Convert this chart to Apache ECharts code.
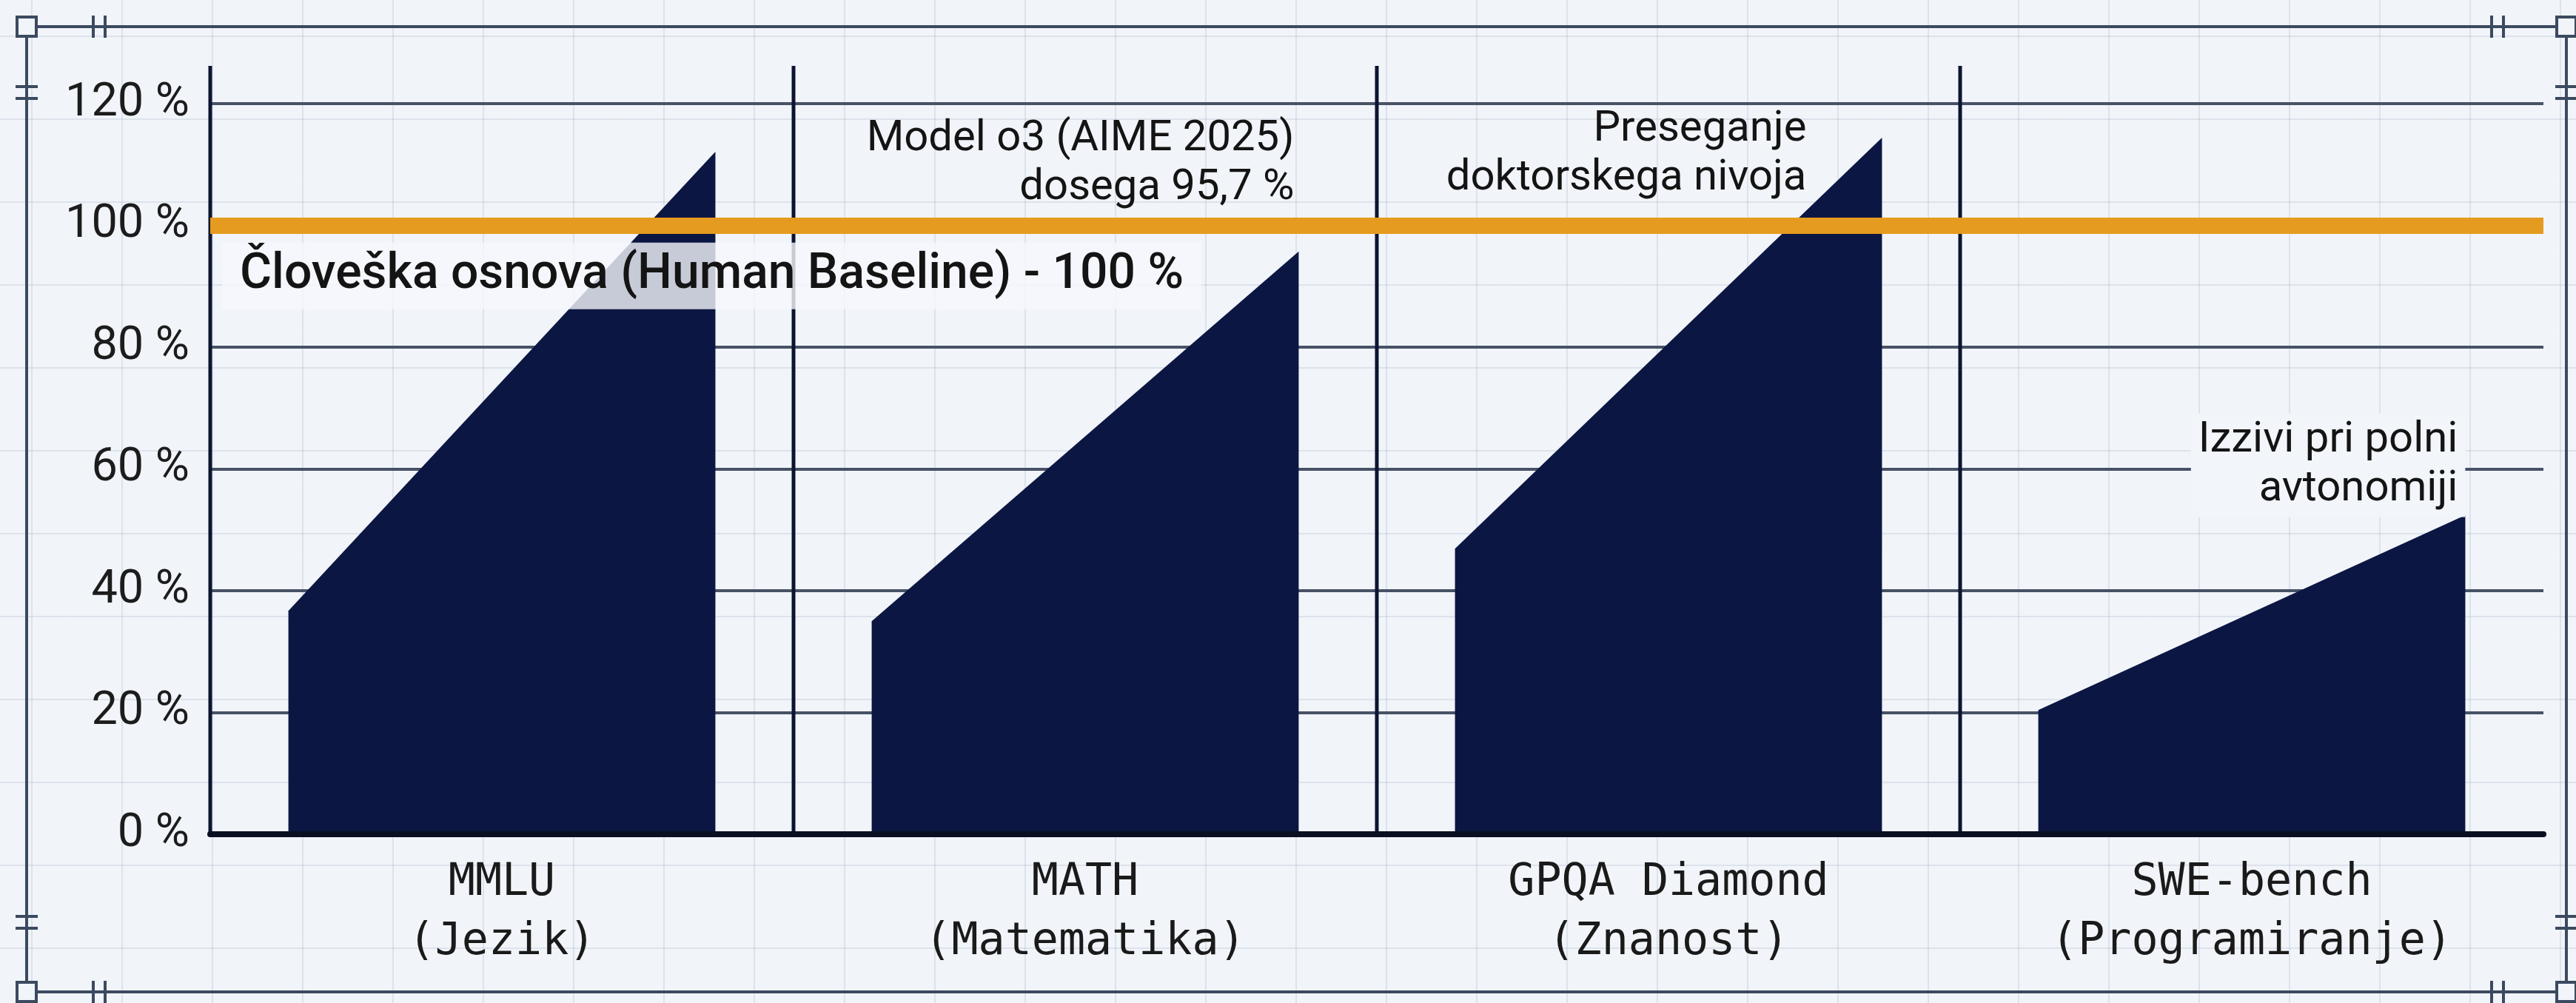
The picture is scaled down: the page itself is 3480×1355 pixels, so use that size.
<!DOCTYPE html>
<html>
<head>
<meta charset="utf-8">
<title>AI benchmarki proti človeški osnovi</title>
<script src="https://cdn.jsdelivr.net/npm/echarts@6/dist/echarts.min.js"></script>
<style>
  html, body { margin: 0; padding: 0; }
  body {
    width: 3480px;
    height: 1355px;
    overflow: hidden;
    background-color: #f1f4f9;
    background-image:
      linear-gradient(to right, rgba(150, 165, 190, 0.22) 2px, transparent 2px),
      linear-gradient(to bottom, rgba(150, 165, 190, 0.22) 2px, transparent 2px);
    background-size: 122px 112px;
    background-position: 42px 48px;
  }
  #main { width: 3480px; height: 1355px; }
</style>
</head>
<body>
<div id="main"></div>
<script>
// data
var categories = ['MMLU\n(Jezik)', 'MATH\n(Matematika)', 'GPQA Diamond\n(Znanost)', 'SWE-bench\n(Programiranje)'];
var startScores = [36.7, 35.0, 46.9, 20.4];
var endScores = [112.1, 95.7, 114.4, 52.4];
var yTicks = [0, 20, 40, 60, 80, 100, 120];
var humanBaseline = 100;
var noteTexts = [
  'Človeška osnova (Human Baseline) - 100 %',
  'Model o3 (AIME 2025)\ndosega 95,7 %',
  'Preseganje\ndoktorskega nivoja',
  'Izzivi pri polni\navtonomiji'
];

var NAVY = '#0b1642';
var SEP = '#0c1430';
var FRAME = '#3b4a60';
var SHAPE_HALF = 0.366; // half width of a shape, share of the band

// where each note sits (category, y value, offset from band edge / shape edge)
var noteLayout = [
  { cat: 0, value: 91.7, align: 'left', dx: 16, weight: 500, size: 66, bg: 'rgba(246,248,252,0.8)', pad: [12, 24] },
  { cat: 1, value: 110.1, align: 'right', dx: -6, weight: 400, size: 58, bg: null, pad: 0 },
  { cat: 2, value: 111.7, align: 'right', dx: -102, weight: 400, size: 58, bg: null, pad: 0 },
  { cat: 3, value: 60.6, align: 'right', dx: 0, weight: 400, size: 58, bg: '#f2f5fa', pad: [4, 10] }
];

var shapeData = categories.map(function (c, i) { return [i, startScores[i], endScores[i]]; });
var noteData = noteLayout.map(function (n) { return [n.cat, n.value]; });

function frameGraphics() {
  var L = 36, T = 36, R = 3467, B = 1340;
  var st = { stroke: FRAME, lineWidth: 4, fill: null };
  var g = [];
  function line(x1, y1, x2, y2) {
    g.push({ type: 'line', shape: { x1: x1, y1: y1, x2: x2, y2: y2 }, style: st, z: 1 });
  }
  line(L, T, R, T);
  line(L, B, R, B);
  line(L, T, L, B);
  line(R, T, R, B);
  // double ticks near the corners
  [126, 142, 3366, 3382].forEach(function (x) {
    line(x, T - 15, x, T + 15);
    line(x, B - 15, x, B + 15);
  });
  [117, 133, 1238, 1254].forEach(function (y) {
    line(L - 15, y, L + 15, y);
    line(R - 15, y, R + 15, y);
  });
  [[L, T], [R, T], [L, B], [R, B]].forEach(function (p) {
    g.push({
      type: 'rect', shape: { x: p[0] - 13, y: p[1] - 13, width: 26, height: 26 },
      style: { stroke: FRAME, lineWidth: 4, fill: '#f1f4f9' }, z: 2
    });
  });
  return g;
}

var chart = echarts.init(document.getElementById('main'));

var option = {
  animation: false,
  backgroundColor: 'transparent',
  graphic: frameGraphics(),
  grid: { left: 284, right: 44, top: 140, bottom: 228, containLabel: false },
  xAxis: {
    type: 'category',
    data: categories,
    boundaryGap: true,
    z: 5,
    axisLine: { show: true, lineStyle: { color: '#0a0f22', width: 8 } },
    axisTick: { show: false },
    splitLine: { show: false },
    axisLabel: {
      margin: 26,
      fontFamily: 'DejaVu Sans Mono',
      fontSize: 60,
      lineHeight: 80,
      color: '#1a1a1a'
    }
  },
  yAxis: {
    type: 'value',
    min: yTicks[0],
    max: yTicks[yTicks.length - 1],
    interval: yTicks[1] - yTicks[0],
    axisLine: { show: false },
    axisTick: { show: false },
    axisLabel: {
      margin: 28,
      formatter: '{value} %',
      fontFamily: 'Roboto',
      fontSize: 63,
      color: '#1c1c1c'
    },
    splitLine: { show: true, lineStyle: { color: '#475266', width: 4 } }
  },
  series: [
    {
      type: 'custom',
      name: 'benchmarks',
      z: 2,
      clip: false,
      data: shapeData,
      renderItem: function (params, api) {
        var idx = api.value(0);
        var base = api.coord([idx, 0]);
        var pStart = api.coord([idx, api.value(1)]);
        var pEnd = api.coord([idx, api.value(2)]);
        var band = api.size([1, 0])[0];
        var hw = band * SHAPE_HALF;
        var sepX = base[0] - band / 2;
        var top = params.coordSys.y - 51;
        return {
          type: 'group',
          children: [
            {
              type: 'polygon',
              shape: { points: [[base[0] - hw, base[1]], [base[0] - hw, pStart[1]], [base[0] + hw, pEnd[1]], [base[0] + hw, base[1]]] },
              style: { fill: NAVY }
            },
            {
              type: 'line',
              shape: { x1: sepX, y1: top, x2: sepX, y2: base[1] },
              style: { stroke: SEP, lineWidth: 5 }
            }
          ]
        };
      }
    },
    {
      type: 'line',
      name: 'baseline',
      z: 3,
      data: [],
      markLine: {
        silent: true,
        symbol: ['none', 'none'],
        label: { show: false },
        lineStyle: { color: '#e59b1f', width: 22, type: 'solid' },
        data: [{ yAxis: humanBaseline }]
      }
    },
    {
      type: 'custom',
      name: 'notes',
      z: 4,
      clip: false,
      data: noteData,
      renderItem: function (params, api) {
        var n = noteLayout[params.dataIndex];
        var c = api.coord([api.value(0), api.value(1)]);
        var band = api.size([1, 0])[0];
        var x = n.align === 'left' ? c[0] - band / 2 + n.dx : c[0] + band * SHAPE_HALF + n.dx;
        return {
          type: 'text',
          x: x,
          y: c[1],
          style: {
            text: noteTexts[params.dataIndex],
            fill: '#141414',
            fontFamily: 'Roboto',
            fontSize: n.size,
            fontWeight: n.weight,
            lineHeight: 66,
            align: n.align,
            verticalAlign: 'middle',
            backgroundColor: n.bg,
            padding: n.pad
          }
        };
      }
    }
  ]
};

chart.setOption(option);
</script>
</body>
</html>
